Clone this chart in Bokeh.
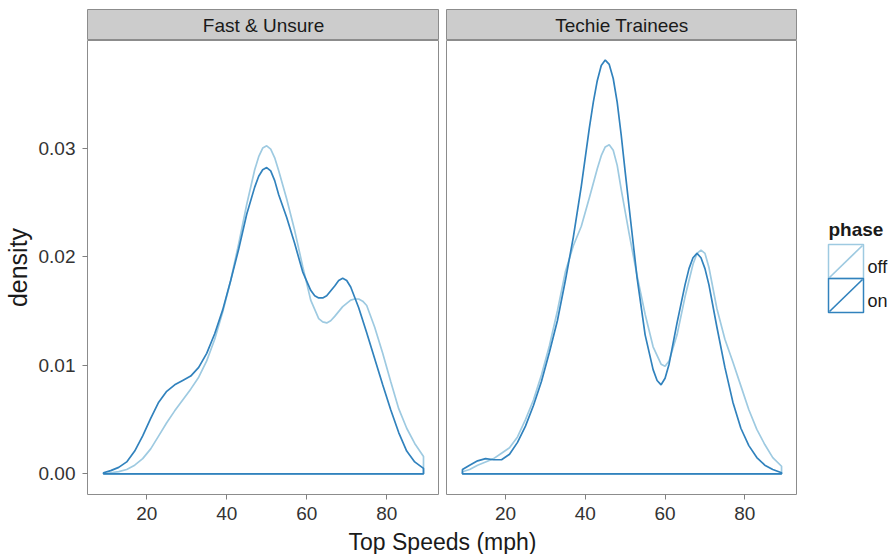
from bokeh.plotting import figure
from bokeh.layouts import row, column
from bokeh.models import Range1d, FixedTicker, PrintfTickFormatter
from bokeh.embed import file_html
from bokeh.resources import INLINE
from bokeh.core.properties import value

FONT = "Liberation Sans"
OFF_COLOR = "#9ecae1"
ON_COLOR = "#3182bd"

# ---------------- data ----------------
facets = ["Fast & Unsure", "Techie Trainees"]
phases = ["off", "on"]
x_ticks = [20, 40, 60, 80]
y_ticks = [0.00, 0.01, 0.02, 0.03]
x_label = "Top Speeds (mph)"
y_label = "density"
legend_title = "phase"

fast_on_x = [9.2, 11, 13, 15, 17, 19, 21, 23, 25, 27, 29, 31, 33, 35, 37, 39, 41, 43, 45, 47,
             48, 49, 50, 51, 52, 53, 55, 57, 59, 61, 62, 63, 64, 65, 67, 68, 69, 70, 71, 73,
             75, 77, 79, 81, 83, 85, 87, 89.2]
fast_on = [0.0001, 0.0003, 0.0006, 0.0011, 0.0021, 0.0035, 0.0051, 0.0066, 0.0076, 0.0082,
           0.0086, 0.0090, 0.0098, 0.0111, 0.0129, 0.0151, 0.0178, 0.0207, 0.0239, 0.0264,
           0.0274, 0.0280, 0.0282, 0.0279, 0.0270, 0.0257, 0.0236, 0.0212, 0.0186, 0.0169,
           0.0164, 0.0162, 0.0162, 0.0164, 0.0173, 0.0178, 0.0180, 0.0178, 0.0172, 0.0153,
           0.0130, 0.0106, 0.0082, 0.0059, 0.0038, 0.0021, 0.0011, 0.0005]

fast_off_x = [9.2, 11, 13, 15, 17, 19, 21, 23, 25, 27, 29, 31, 33, 35, 37, 39, 41, 43, 45, 47,
              48, 49, 50, 51, 52, 53, 55, 57, 59, 61, 63, 64, 65, 66, 67, 69, 71, 72, 73, 74,
              75, 77, 79, 81, 83, 85, 87, 89.2]
fast_off = [0.0000, 0.0001, 0.0002, 0.0004, 0.0008, 0.0014, 0.0023, 0.0035, 0.0047, 0.0058,
            0.0068, 0.0078, 0.0089, 0.0104, 0.0124, 0.0149, 0.0178, 0.0212, 0.0248, 0.0280,
            0.0292, 0.0300, 0.0302, 0.0299, 0.0291, 0.0279, 0.0253, 0.0224, 0.0191, 0.0160,
            0.0143, 0.0140, 0.0139, 0.0141, 0.0145, 0.0154, 0.0160, 0.0161, 0.0161, 0.0159,
            0.0155, 0.0135, 0.0111, 0.0085, 0.0060, 0.0042, 0.0028, 0.0016]

techie_on_x = [9.2, 11, 13, 15, 17, 19, 21, 23, 25, 27, 29, 31, 33, 35, 37, 39, 41, 42, 43, 44,
               45, 46, 47, 48, 49, 50, 51, 53, 55, 57, 58, 59, 60, 61, 63, 65, 66, 67, 68, 69,
               70, 71, 73, 75, 77, 79, 81, 83, 85, 87, 89.2]
techie_on = [0.0004, 0.0008, 0.0012, 0.0014, 0.0013, 0.0013, 0.0018, 0.0029, 0.0044, 0.0063,
             0.0085, 0.0112, 0.0141, 0.0178, 0.0218, 0.0265, 0.0318, 0.0342, 0.0362, 0.0376,
             0.0381, 0.0377, 0.0364, 0.0342, 0.0312, 0.0278, 0.0245, 0.0180, 0.0128, 0.0096,
             0.0086, 0.0082, 0.0088, 0.0101, 0.0139, 0.0174, 0.0189, 0.0199, 0.0203, 0.0199,
             0.0189, 0.0174, 0.0135, 0.0098, 0.0066, 0.0042, 0.0026, 0.0015, 0.0008, 0.0004,
             0.0001]

techie_off_x = [9.2, 11, 13, 15, 17, 19, 21, 23, 25, 27, 29, 31, 33, 35, 37, 39, 41, 43, 44, 45,
                46, 47, 48, 49, 51, 53, 55, 57, 59, 60, 61, 63, 65, 67, 68, 69, 70, 71, 73, 75,
                77, 79, 81, 83, 85, 87, 89.2]
techie_off = [0.0002, 0.0004, 0.0008, 0.0011, 0.0014, 0.0019, 0.0024, 0.0034, 0.0050, 0.0068,
              0.0091, 0.0118, 0.0150, 0.0186, 0.0210, 0.0228, 0.0254, 0.0281, 0.0293, 0.0301,
              0.0303, 0.0298, 0.0284, 0.0262, 0.0221, 0.0182, 0.0147, 0.0117, 0.0101, 0.0099,
              0.0104, 0.0128, 0.0163, 0.0193, 0.0203, 0.0206, 0.0203, 0.0190, 0.0152, 0.0124,
              0.0103, 0.0081, 0.0059, 0.0041, 0.0027, 0.0015, 0.0007]

panels = [
    (facets[0], [(fast_off_x, fast_off), (fast_on_x, fast_on)]),
    (facets[1], [(techie_off_x, techie_off), (techie_on_x, techie_on)]),
]
colors = [OFF_COLOR, ON_COLOR]

X_RANGE = (5.2, 93.2)
Y_RANGE = (-0.0019, 0.0399)

# ---------------- layout constants ----------------
LEFT_BORDER = 87
GAP = 7
FRAME_W = [352, 351]
STRIP_TOP = 9
STRIP_FRAME_H = 31
PANEL_FRAME_H = 454
BOTTOM_BORDER = 34
TITLE_H = 26
LEGEND_W = 94
BORDER_COLOR = "#8c8c8c"
TEXT_COLOR = "#333333"


def style_axis(ax):
    ax.axis_line_color = None
    ax.major_tick_line_color = "#7f7f7f"
    ax.major_tick_out = 5
    ax.major_tick_in = 0
    ax.minor_tick_line_color = None
    ax.major_label_text_font = FONT
    ax.major_label_text_font_size = "19px"
    ax.major_label_text_color = TEXT_COLOR


def blank(fig):
    fig.grid.visible = False
    fig.background_fill_color = "white"
    fig.border_fill_color = "white"


def make_strip(name, left_border, frame_w):
    s = figure(width=left_border + frame_w, height=STRIP_TOP + STRIP_FRAME_H,
               x_range=Range1d(0, 1), y_range=Range1d(0, 1),
               min_border_left=left_border, min_border_right=0,
               min_border_top=STRIP_TOP, min_border_bottom=0,
               x_axis_location=None, y_axis_location=None,
               output_backend="svg", toolbar_location=None)
    blank(s)
    s.background_fill_color = "#cccccc"
    s.outline_line_color = BORDER_COLOR
    s.text(x=[0.5], y=[0.5], text=[name], text_align="center", text_baseline="middle",
           text_font=value(FONT), text_font_size="19px", text_color="#1a1a1a")
    return s


def make_panel(series, left):
    lb = LEFT_BORDER if left else GAP
    fw = FRAME_W[0] if left else FRAME_W[1]
    p = figure(width=lb + fw, height=PANEL_FRAME_H + BOTTOM_BORDER,
               x_range=Range1d(*X_RANGE), y_range=Range1d(*Y_RANGE),
               min_border_left=lb, min_border_right=0,
               min_border_top=0, min_border_bottom=BOTTOM_BORDER,
               y_axis_location="left" if left else None,
               output_backend="svg", toolbar_location=None)
    blank(p)
    p.outline_line_color = BORDER_COLOR
    p.xaxis.ticker = FixedTicker(ticks=x_ticks)
    style_axis(p.xaxis[0])
    p.xaxis.major_label_standoff = 7
    if left:
        p.yaxis.ticker = FixedTicker(ticks=y_ticks)
        p.yaxis.formatter = PrintfTickFormatter(format="%.2f")
        style_axis(p.yaxis[0])
        p.yaxis.major_label_standoff = 7
        p.yaxis.axis_label = y_label
        p.yaxis.axis_label_text_font = FONT
        p.yaxis.axis_label_text_font_size = "25px"
        p.yaxis.axis_label_text_font_style = "normal"
        p.yaxis.axis_label_text_color = "#1a1a1a"
        p.yaxis.axis_label_standoff = 4
    for (xs, ys), c in zip(series, colors):
        px = [xs[0]] + list(xs) + [xs[-1]]
        py = [0.0] + list(ys) + [0.0]
        p.patch(px, py, fill_color=None, line_color=c, line_width=1.7)
    return p


cols = []
for i, (name, series) in enumerate(panels):
    left = i == 0
    strip = make_strip(name, LEFT_BORDER if left else GAP, FRAME_W[i])
    pan = make_panel(series, left)
    cols.append(column(strip, pan, spacing=0))

# legend (its own small canvas, y measured downward in pixels)
LH = STRIP_TOP + STRIP_FRAME_H + PANEL_FRAME_H + BOTTOM_BORDER
lg = figure(width=LEGEND_W, height=LH, x_range=Range1d(0, LEGEND_W), y_range=Range1d(LH, 0),
            min_border=0, x_axis_location=None, y_axis_location=None,
            output_backend="svg", toolbar_location=None)
blank(lg)
lg.outline_line_color = None
lg.text(x=[31], y=[229], text=[legend_title], text_align="left", text_baseline="middle",
        text_font=value(FONT), text_font_size="19px", text_font_style="bold", text_color="#1a1a1a")
box_l, box_r, box_h, box_top0 = 31, 66, 34, 244
for k, (ph, c) in enumerate(zip(phases, colors)):
    t = box_top0 + k * box_h
    b = t + box_h
    lg.quad(left=[box_l], right=[box_r], top=[t], bottom=[b], fill_color=None,
            line_color=c, line_width=1.5)
    lg.segment(x0=[box_l + 1], y0=[b - 1], x1=[box_r - 1], y1=[t + 1], line_color=c, line_width=1.7)
    lg.text(x=[box_r + 4], y=[t + 22], text=[ph], text_align="left", text_baseline="middle",
            text_font=value(FONT), text_font_size="18px", text_color="#1a1a1a")

top_row = row(cols[0], cols[1], lg, spacing=0)

# shared x-axis title centred under both panels
tw = LEFT_BORDER + FRAME_W[0] + GAP + FRAME_W[1]
tf = figure(width=tw, height=TITLE_H, x_range=Range1d(0, 1), y_range=Range1d(0, TITLE_H),
            min_border_left=LEFT_BORDER, min_border_right=0, min_border_top=0, min_border_bottom=0,
            x_axis_location=None, y_axis_location=None,
            output_backend="svg", toolbar_location=None)
blank(tf)
tf.outline_line_color = None
tf.text(x=[0.5], y=[TITLE_H / 2], text=[x_label], text_align="center", text_baseline="middle",
        text_font=value(FONT), text_font_size="23px", text_color="#1a1a1a")

layout = column(top_row, tf, spacing=0)

with open("out.html", "w") as f:
    f.write(file_html(layout, INLINE, title="density"))
